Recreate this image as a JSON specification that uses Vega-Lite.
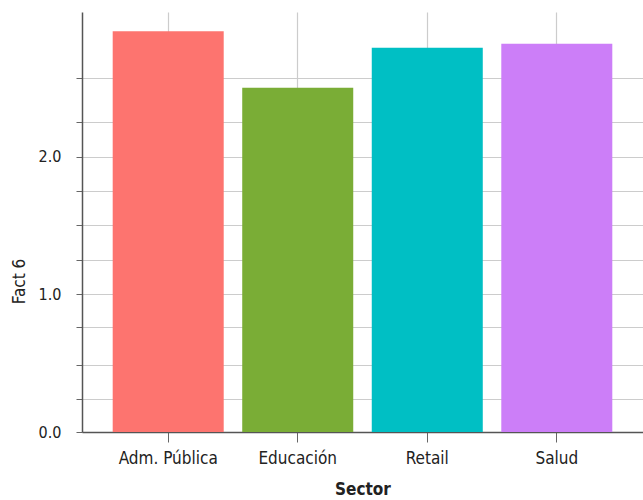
{
  "$schema": "https://vega.github.io/schema/vega-lite/v6.json",
  "width": 561,
  "height": 420,
  "autosize": {"type": "none"},
  "padding": {"left": 82, "top": 12, "right": 0, "bottom": 68},
  "background": "white",
  "config": {
    "view": {"stroke": null},
    "font": "'DejaVu Sans Condensed', 'Open Sans', sans-serif",
    "axis": {
      "labelFont": "'DejaVu Sans Condensed', 'Open Sans', sans-serif",
      "titleFont": "'DejaVu Sans Condensed', 'Open Sans', sans-serif",
      "labelColor": "#222222",
      "titleColor": "#222222",
      "gridColor": "#cccccc",
      "gridWidth": 1.2,
      "domainColor": "#555555",
      "domainWidth": 1.5,
      "tickColor": "#666666",
      "tickWidth": 1
    }
  },
  "data": {
    "values": [
      {"Sector": "Adm. Pública", "Fact6": 2.91},
      {"Sector": "Educación", "Fact6": 2.5},
      {"Sector": "Retail", "Fact6": 2.79},
      {"Sector": "Salud", "Fact6": 2.82}
    ]
  },
  "mark": {"type": "bar"},
  "encoding": {
    "x": {
      "field": "Sector",
      "type": "nominal",
      "sort": null,
      "scale": {"paddingInner": 0.143, "paddingOuter": 0.237},
      "axis": {
        "title": "Sector",
        "titleFontWeight": "bold",
        "titleFontSize": 17,
        "titlePadding": 15,
        "labelAngle": 0,
        "labelFontSize": 17,
        "labelPadding": 8,
        "tickSize": 10,
        "grid": true
      }
    },
    "y": {
      "field": "Fact6",
      "type": "quantitative",
      "scale": {"domain": [0, 3.05], "nice": false, "zero": true},
      "axis": {
        "title": "Fact 6",
        "titleFontWeight": "normal",
        "titleFontSize": 17,
        "titleX": -63,
        "titleY": 269,
        "titleAngle": -90,
        "titleAlign": "center",
        "titleBaseline": "middle",
        "values": [0, 0.24, 0.49, 0.76, 1, 1.25, 1.5, 1.75, 2, 2.25, 2.57],
        "labelExpr": "datum.value == 0 || datum.value == 1 || datum.value == 2 ? format(datum.value, '.1f') : ''",
        "labelFontSize": 16,
        "labelPadding": 15,
        "tickSize": 6,
        "grid": true
      }
    },
    "color": {
      "field": "Sector",
      "type": "nominal",
      "sort": null,
      "legend": null,
      "scale": {
        "domain": ["Adm. Pública", "Educación", "Retail", "Salud"],
        "range": ["#FD746F", "#7AAD36", "#00BFC4", "#CC7EF8"]
      }
    }
  }
}
